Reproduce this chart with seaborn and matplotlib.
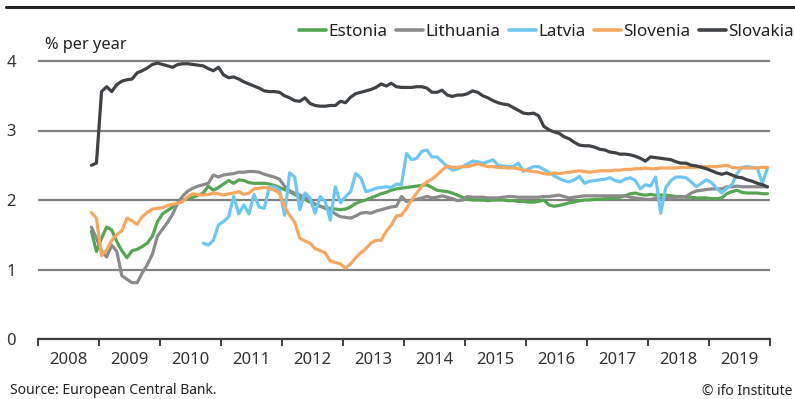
import numpy as np
import pandas as pd
import matplotlib
matplotlib.use("Agg")
import matplotlib.pyplot as plt
from matplotlib.lines import Line2D
import seaborn as sns

# Monthly interest rates, % per year
countries = ["Estonia", "Lithuania", "Latvia", "Slovenia", "Slovakia"]
colors = ["#55a553", "#8b8b8b", "#6fc7f1", "#f8a760", "#404346"]
start_month = {"Estonia": "2008-11", "Lithuania": "2008-11", "Latvia": "2010-09",
               "Slovenia": "2008-11", "Slovakia": "2008-11"}

estonia = [1.55, 1.26,
           1.45, 1.61, 1.57, 1.40, 1.27, 1.17, 1.27, 1.29, 1.33, 1.38, 1.48, 1.69,
           1.80, 1.85, 1.90, 1.95, 2.00, 2.02, 2.04, 2.07, 2.10, 2.20, 2.14, 2.18,
           2.23, 2.28, 2.24, 2.29, 2.28, 2.25, 2.24, 2.24, 2.24, 2.23, 2.21, 2.18,
           2.15, 2.12, 2.08, 2.04, 2.01, 1.97, 1.94, 1.91, 1.89, 1.88, 1.87, 1.86,
           1.87, 1.90, 1.95, 1.98, 2.00, 2.03, 2.06, 2.09, 2.11, 2.14, 2.16, 2.17,
           2.18, 2.19, 2.20, 2.21, 2.22, 2.18, 2.14, 2.13, 2.12, 2.10, 2.07, 2.04,
           2.01, 2.00, 2.00, 2.00, 1.99, 2.00, 2.00, 2.00, 1.99, 1.99, 1.98, 1.98,
           1.97, 1.97, 1.98, 2.00, 1.93, 1.91, 1.92, 1.94, 1.96, 1.97, 1.99, 2.00,
           2.00, 2.01, 2.01, 2.02, 2.02, 2.03, 2.04, 2.06, 2.09, 2.10, 2.08, 2.07,
           2.08, 2.07, 2.07, 2.07, 2.06, 2.05, 2.05, 2.04, 2.04, 2.03, 2.03, 2.03,
           2.02, 2.02, 2.03, 2.09, 2.12, 2.14, 2.11, 2.10, 2.10, 2.10, 2.09, 2.09]

lithuania = [1.61, 1.45,
             1.27, 1.18, 1.35, 1.26, 0.91, 0.86, 0.81, 0.81, 0.95, 1.07, 1.22, 1.48,
             1.58, 1.68, 1.80, 1.96, 2.06, 2.13, 2.17, 2.20, 2.22, 2.24, 2.36, 2.33,
             2.36, 2.37, 2.38, 2.40, 2.40, 2.41, 2.41, 2.40, 2.37, 2.35, 2.33, 2.30,
             2.20, 2.13, 2.10, 2.07, 2.04, 1.99, 1.94, 1.91, 1.88, 1.85, 1.80, 1.76,
             1.75, 1.74, 1.77, 1.81, 1.82, 1.81, 1.84, 1.86, 1.88, 1.90, 1.91, 2.05,
             1.98, 2.00, 2.01, 2.03, 2.05, 2.03, 2.04, 2.06, 2.04, 2.02, 1.99, 2.00,
             2.05, 2.04, 2.04, 2.04, 2.03, 2.03, 2.03, 2.04, 2.05, 2.05, 2.04, 2.04,
             2.04, 2.04, 2.04, 2.05, 2.05, 2.06, 2.07, 2.05, 2.03, 2.04, 2.05, 2.06,
             2.06, 2.06, 2.06, 2.06, 2.06, 2.06, 2.06, 2.06, 2.04, 2.03, 2.02, 2.01,
             2.01, 2.02, 2.02, 2.03, 2.03, 2.04, 2.04, 2.05, 2.10, 2.13, 2.14, 2.15,
             2.16, 2.16, 2.16, 2.19, 2.19, 2.20, 2.19, 2.19, 2.19, 2.19, 2.19, 2.19]

latvia = [1.38, 1.35, 1.42, 1.64,
          1.69, 1.76, 2.05, 1.80, 1.93, 1.80, 2.08, 1.90, 1.88, 2.19, 2.19, 2.15,
          1.78, 2.39, 2.33, 1.86, 2.10, 2.03, 1.81, 2.05, 1.98, 1.71, 2.19, 1.96,
          2.05, 2.12, 2.38, 2.32, 2.12, 2.14, 2.17, 2.18, 2.19, 2.18, 2.23, 2.22,
          2.67, 2.58, 2.60, 2.70, 2.72, 2.62, 2.62, 2.55, 2.48, 2.43, 2.45, 2.48,
          2.52, 2.56, 2.55, 2.53, 2.55, 2.58, 2.50, 2.49, 2.48, 2.48, 2.53, 2.41,
          2.45, 2.48, 2.48, 2.44, 2.40, 2.35, 2.31, 2.28, 2.26, 2.29, 2.34, 2.24,
          2.27, 2.28, 2.29, 2.30, 2.32, 2.28, 2.26, 2.30, 2.32, 2.28, 2.16, 2.22,
          2.20, 2.33, 1.81, 2.18, 2.28, 2.33, 2.33, 2.32, 2.26, 2.19, 2.24, 2.29,
          2.25, 2.17, 2.10, 2.17, 2.22, 2.38, 2.47, 2.48, 2.47, 2.46, 2.24, 2.46]

slovenia = [1.82, 1.74,
            1.20, 1.28, 1.42, 1.50, 1.56, 1.74, 1.70, 1.65, 1.76, 1.82, 1.87, 1.88,
            1.89, 1.92, 1.94, 1.95, 1.98, 2.05, 2.09, 2.08, 2.07, 2.08, 2.10, 2.09,
            2.07, 2.09, 2.10, 2.12, 2.08, 2.10, 2.16, 2.17, 2.18, 2.17, 2.14, 2.10,
            1.90, 1.78, 1.68, 1.45, 1.41, 1.38, 1.30, 1.27, 1.24, 1.12, 1.10, 1.08,
            1.02, 1.08, 1.17, 1.24, 1.30, 1.38, 1.42, 1.42, 1.55, 1.64, 1.77, 1.78,
            1.88, 2.00, 2.10, 2.20, 2.26, 2.30, 2.36, 2.43, 2.49, 2.47, 2.47, 2.48,
            2.48, 2.50, 2.52, 2.50, 2.48, 2.48, 2.47, 2.47, 2.46, 2.46, 2.45, 2.43,
            2.42, 2.41, 2.40, 2.38, 2.37, 2.39, 2.38, 2.39, 2.40, 2.41, 2.42, 2.41,
            2.40, 2.41, 2.42, 2.42, 2.42, 2.43, 2.43, 2.44, 2.44, 2.45, 2.45, 2.46,
            2.45, 2.45, 2.46, 2.46, 2.46, 2.46, 2.47, 2.47, 2.47, 2.47, 2.48, 2.48,
            2.48, 2.48, 2.49, 2.50, 2.47, 2.46, 2.46, 2.46, 2.46, 2.46, 2.47, 2.47]

slovakia = [2.50, 2.53,
            3.56, 3.63, 3.56, 3.66, 3.71, 3.73, 3.74, 3.83, 3.86, 3.90, 3.95, 3.97,
            3.95, 3.93, 3.91, 3.95, 3.96, 3.96, 3.95, 3.94, 3.93, 3.89, 3.86, 3.91,
            3.80, 3.76, 3.77, 3.74, 3.70, 3.67, 3.64, 3.61, 3.57, 3.56, 3.56, 3.55,
            3.50, 3.47, 3.43, 3.42, 3.47, 3.39, 3.36, 3.35, 3.35, 3.36, 3.36, 3.42,
            3.40, 3.48, 3.53, 3.55, 3.57, 3.59, 3.62, 3.67, 3.64, 3.68, 3.63, 3.62,
            3.62, 3.62, 3.63, 3.63, 3.61, 3.55, 3.55, 3.58, 3.51, 3.49, 3.51, 3.51,
            3.53, 3.57, 3.55, 3.50, 3.47, 3.43, 3.40, 3.38, 3.37, 3.33, 3.29, 3.25,
            3.24, 3.25, 3.21, 3.06, 3.01, 2.98, 2.96, 2.91, 2.88, 2.83, 2.79, 2.78,
            2.78, 2.76, 2.73, 2.72, 2.69, 2.68, 2.66, 2.66, 2.65, 2.63, 2.60, 2.56,
            2.62, 2.61, 2.60, 2.59, 2.58, 2.55, 2.53, 2.53, 2.50, 2.49, 2.47, 2.45,
            2.42, 2.39, 2.37, 2.39, 2.36, 2.33, 2.32, 2.29, 2.27, 2.24, 2.22, 2.19]

years = list(range(2008, 2020))
y_ticks = [0, 1, 2, 3, 4]
series = {"Estonia": estonia, "Lithuania": lithuania, "Latvia": latvia,
          "Slovenia": slovenia, "Slovakia": slovakia}

# Long-form table: one row per country and month, time as mid-month decimal year
frames = []
for name in countries:
    vals = series[name]
    months = pd.period_range(start_month[name], periods=len(vals), freq="M")
    t = months.year + (months.month - 0.5) / 12.0
    frames.append(pd.DataFrame({"t": t, "rate": vals, "country": name}))
df = pd.concat(frames, ignore_index=True)

sns.set_theme(style="white")
plt.rcParams["font.family"] = ["Noto Sans", "DejaVu Sans"]

W, H = 795, 399
fig = plt.figure(figsize=(W / 100, H / 100), dpi=100)
px_per_unit = 69.5
y_top = 4.2
ax = fig.add_axes([38 / W, 60 / H, 732 / W, y_top * px_per_unit / H])

sns.lineplot(data=df, x="t", y="rate", hue="country", hue_order=countries,
             palette=dict(zip(countries, colors)), linewidth=2.3, ax=ax,
             legend=True)

ax.set_xlim(2008, 2020)
ax.set_ylim(0, y_top)
ax.set_xlabel("")
ax.set_ylabel("")

# Horizontal reference lines
ax.set_yticks(y_ticks)
ax.set_yticklabels([str(v) for v in y_ticks])
ax.yaxis.grid(True, color="#808080", linewidth=1.6)
ax.xaxis.grid(False)
ax.set_axisbelow(True)
ax.tick_params(axis="y", length=0, pad=16, labelsize=12, labelcolor="#333333")

# Year boundaries as ticks, year labels centred between them
ax.set_xticks(list(range(2008, 2021)))
ax.set_xticklabels([])
ax.set_xticks([y + 0.5 for y in years], minor=True)
ax.set_xticklabels([str(y) for y in years], minor=True)
ax.tick_params(axis="x", which="major", direction="out", length=5, width=1.4,
               color="#404040", bottom=True)
ax.tick_params(axis="x", which="minor", length=0, pad=9, labelsize=12,
               labelcolor="#333333")

for side in ["top", "right", "left"]:
    ax.spines[side].set_visible(False)
ax.spines["bottom"].set_color("#404040")
ax.spines["bottom"].set_linewidth(1.6)

handles, labels = ax.get_legend_handles_labels()
ax.get_legend().remove()
fig.legend(handles, labels, loc="center right",
           bbox_to_anchor=(794 / W, 1 - 32 / H), ncol=5, frameon=False,
           fontsize=12.3, handlelength=1.6, handletextpad=0.12,
           columnspacing=0.5, borderpad=0, borderaxespad=0)
for line in fig.legends[0].get_lines():
    line.set_linewidth(2.6)
for txt in fig.legends[0].get_texts():
    txt.set_color("#222222")

fig.text(45 / W, 1 - 45 / H, "% per year", fontsize=11.8, color="#222222",
         ha="left", va="center")

# Rule under the heading
fig.add_artist(Line2D([6 / W, 1.0], [1 - 6.5 / H, 1 - 6.5 / H],
                      color="#222222", linewidth=2.2))

fig.text(10 / W, 1 - 391 / H, "Source: European Central Bank.", fontsize=10,
         color="#222222", ha="left", va="center")
fig.text(792 / W, 1 - 391 / H, "© ifo Institute", fontsize=10,
         color="#222222", ha="right", va="center")

fig.savefig("out.png", dpi=100)
